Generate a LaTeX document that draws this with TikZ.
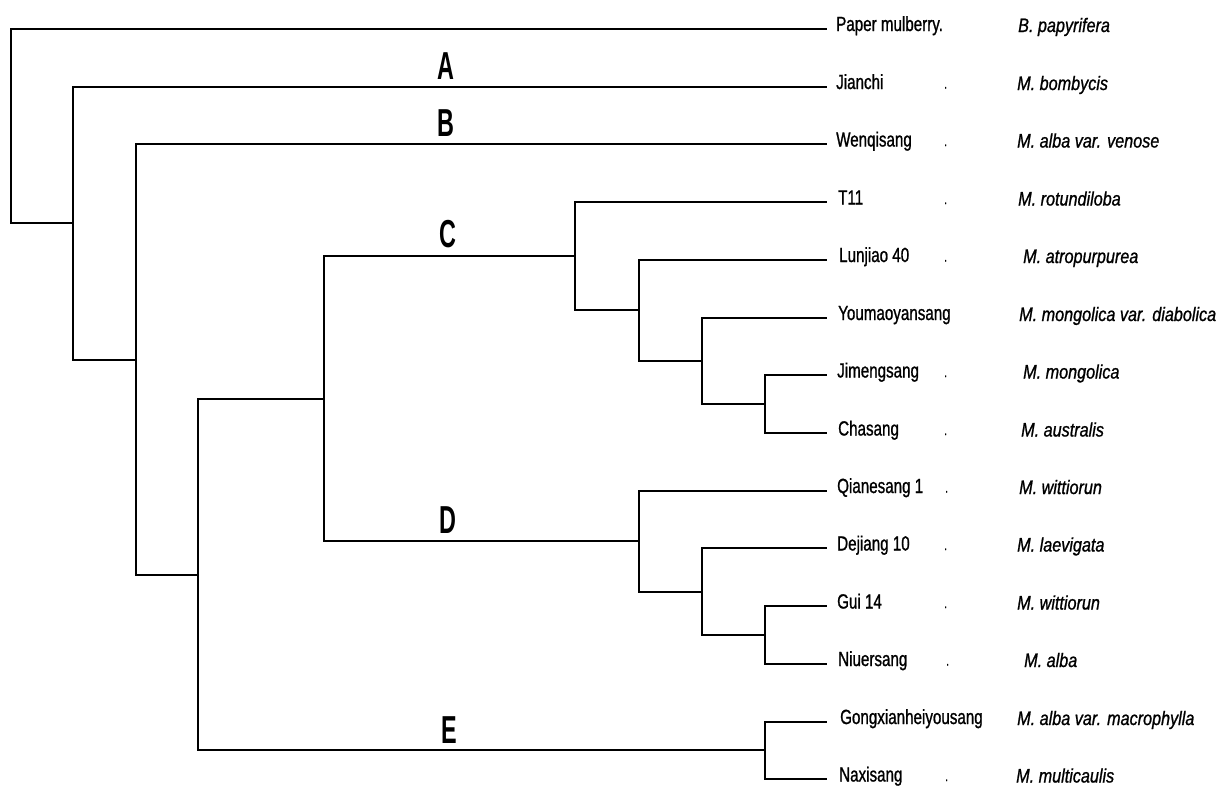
\documentclass[tikz,border=0pt]{standalone}
\usepackage{fontspec}
\setmainfont{Liberation Sans}[FakeStretch=0.74, FakeBold=1]
\newfontfamily\speciesfont{Liberation Sans}[FakeStretch=0.83, FakeBold=1]
\newfontfamily\cladefont{Liberation Sans}[FakeStretch=0.6]
\usepackage{tikz}
\usetikzlibrary{positioning}

\begin{document}
\begin{tikzpicture}[
    x=1pt, y=-1pt,
    branch/.style={line width=2pt},
    taxon/.style={anchor=base west, inner sep=0pt, font=\fontsize{20.5}{22}\selectfont},
    species/.style={anchor=base west, inner sep=0pt, font=\speciesfont\itshape\fontsize{19.5}{22}\selectfont},
    dotmark/.style={anchor=base west, inner sep=0pt, font=\fontsize{14}{16}\selectfont},
    clade/.style={anchor=base, inner sep=0pt, font=\cladefont\bfseries\fontsize{39}{40}\selectfont}
]
    \useasboundingbox (0,0) rectangle (1218,790);

    % Leaf tips
    \coordinate (t1) at (827,29);
    \coordinate (t2) at (827,86.7);
    \coordinate (t3) at (827,144.4);
    \coordinate (t4) at (827,202);
    \coordinate (t5) at (827,259.7);
    \coordinate (t6) at (827,317.5);
    \coordinate (t7) at (827,375.2);
    \coordinate (t8) at (827,433);
    \coordinate (t9) at (827,490.6);
    \coordinate (t10) at (827,548.3);
    \coordinate (t11) at (827,606);
    \coordinate (t12) at (827,663.8);
    \coordinate (t13) at (827,721.5);
    \coordinate (t14) at (827,779.2);

    % Internal nodes
    \coordinate (jimeng) at (765,404.1);
    \coordinate (youmao) at (702,360.8);
    \coordinate (lunjiao) at (639,310.2);
    \coordinate (cladeC) at (575,256.1);
    \coordinate (gui) at (765,634.9);
    \coordinate (dejiang) at (702,591.6);
    \coordinate (cladeD) at (639,541.1);
    \coordinate (cd) at (324,398.6);
    \coordinate (cladeE) at (765,750.4);
    \coordinate (cde) at (198,574.5);
    \coordinate (cladeB) at (136,359.5);
    \coordinate (cladeA) at (73,223.1);
    \coordinate (root) at (10.7,126);

    % Branches
    \draw[branch] (root) |- (t1);
    \draw[branch] (root) |- (cladeA);
    \draw[branch] (cladeA) |- (t2);
    \draw[branch] (cladeA) |- (cladeB);
    \draw[branch] (cladeB) |- (t3);
    \draw[branch] (cladeB) |- (cde);
    \draw[branch] (cde) |- (cd);
    \draw[branch] (cde) |- (cladeE);
    \draw[branch] (cd) |- (cladeC);
    \draw[branch] (cd) |- (cladeD);
    \draw[branch] (cladeC) |- (t4);
    \draw[branch] (cladeC) |- (lunjiao);
    \draw[branch] (lunjiao) |- (t5);
    \draw[branch] (lunjiao) |- (youmao);
    \draw[branch] (youmao) |- (t6);
    \draw[branch] (youmao) |- (jimeng);
    \draw[branch] (jimeng) |- (t7);
    \draw[branch] (jimeng) |- (t8);
    \draw[branch] (cladeD) |- (t9);
    \draw[branch] (cladeD) |- (dejiang);
    \draw[branch] (dejiang) |- (t10);
    \draw[branch] (dejiang) |- (gui);
    \draw[branch] (gui) |- (t11);
    \draw[branch] (gui) |- (t12);
    \draw[branch] (cladeE) |- (t13);
    \draw[branch] (cladeE) |- (t14);

    % Clade letters
    \node[clade] (labA) at (446,79) {A};
    \node[clade] (labB) at (446,136) {B};
    \node[clade] (labC) at (448,247) {C};
    \node[clade] (labD) at (448,533) {D};
    \node[clade] (labE) at (449,743) {E};

    % Cultivar names
    \node[taxon] (n1) at (836,31) {Paper mulberry.};
    \node[taxon] (n2) at (836,89) {Jianchi};
    \node[taxon] (n3) at (836,146.5) {Wenqisang};
    \node[taxon] (n4) at (838,204.5) {T11};
    \node[taxon] (n5) at (839,262) {Lunjiao 40};
    \node[taxon] (n6) at (838,320) {Youmaoyansang};
    \node[taxon] (n7) at (837,377.5) {Jimengsang};
    \node[taxon] (n8) at (838,435.5) {Chasang};
    \node[taxon] (n9) at (837,493) {Qianesang 1};
    \node[taxon] (n10) at (837,550.5) {Dejiang 10};
    \node[taxon] (n11) at (837,608.5) {Gui 14};
    \node[taxon] (n12) at (838,666) {Niuersang};
    \node[taxon] (n13) at (840,724) {Gongxianheiyousang};
    \node[taxon] (n14) at (839,781.5) {Naxisang};

    % Stray dots
    \node[dotmark] (d2) at (944,88.5) {.};
    \node[dotmark] (d3) at (944,146) {.};
    \node[dotmark] (d4) at (944,204) {.};
    \node[dotmark] (d5) at (944,261.5) {.};
    \node[dotmark] (d7) at (944,377) {.};
    \node[dotmark] (d8) at (944,435) {.};
    \node[dotmark] (d9) at (945,492.5) {.};
    \node[dotmark] (d10) at (944,550) {.};
    \node[dotmark] (d11) at (944,608) {.};
    \node[dotmark] (d12) at (946,665.5) {.};
    \node[dotmark] (d14) at (945,781) {.};

    % Species
    \node[species] (s1) at (1018,32) {B. papyrifera};
    \node[species] (s2) at (1017,90) {M. bombycis};
    \node[species] (s3) at (1017,147.5) {M. alba var. venose};
    \node[species] (s4) at (1018,205.5) {M. rotundiloba};
    \node[species] (s5) at (1023,263) {M. atropurpurea};
    \node[species] (s6) at (1019,321) {M. mongolica var. diabolica};
    \node[species] (s7) at (1023,378.5) {M. mongolica};
    \node[species] (s8) at (1021,436.5) {M. australis};
    \node[species] (s9) at (1019,494) {M. wittiorun};
    \node[species] (s10) at (1017,551.5) {M. laevigata};
    \node[species] (s11) at (1017,609.5) {M. wittiorun};
    \node[species] (s12) at (1024,667) {M. alba};
    \node[species] (s13) at (1017,725) {M. alba var. macrophylla};
    \node[species] (s14) at (1016,782.5) {M. multicaulis};
\end{tikzpicture}
\end{document}
